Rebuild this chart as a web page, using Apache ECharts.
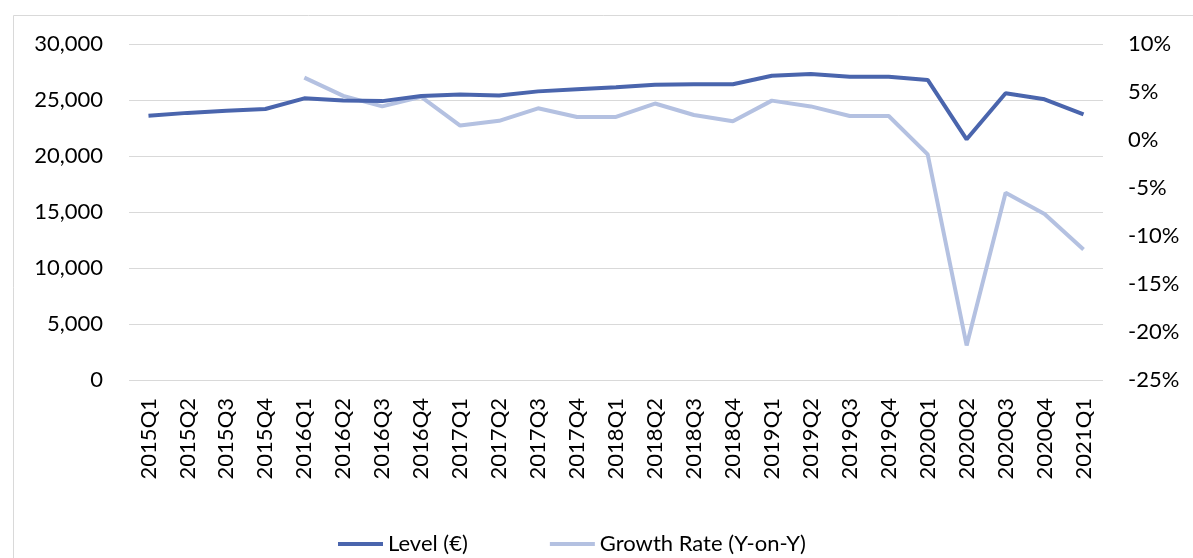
<!DOCTYPE html>
<html>
<head>
<meta charset="utf-8">
<script src="https://cdn.jsdelivr.net/npm/echarts@6/dist/echarts.min.js"></script>
<style>
html,body{margin:0;padding:0;background:#fff;}
#chart{width:1193px;height:558px;}
</style>
</head>
<body>
<div id="chart"></div>
<script>
const categories = ['2015Q1','2015Q2','2015Q3','2015Q4','2016Q1','2016Q2','2016Q3','2016Q4',
  '2017Q1','2017Q2','2017Q3','2017Q4','2018Q1','2018Q2','2018Q3','2018Q4',
  '2019Q1','2019Q2','2019Q3','2019Q4','2020Q1','2020Q2','2020Q3','2020Q4','2021Q1'];
const levelValues = [23600, 23850, 24050, 24200, 25150, 24950, 24900, 25350,
  25500, 25400, 25770, 25950, 26130, 26370, 26400, 26400,
  27170, 27320, 27080, 27080, 26790, 21490, 25600, 25060, 23720];
const growthValues = [null, null, null, null, 6.5, 4.6, 3.5, 4.5,
  1.5, 2.0, 3.3, 2.4, 2.4, 3.8, 2.6, 1.95,
  4.1, 3.5, 2.5, 2.5, -1.5, -21.4, -5.5, -7.7, -11.4];
const seriesNames = ['Level (€)', 'Growth Rate (Y-on-Y)'];

const FONT = 'Lato';
const chart = echarts.init(document.getElementById('chart'), null, {renderer:'canvas'});
chart.setOption({
  animation: false,
  backgroundColor: '#fff',
  textStyle: {fontFamily: FONT},
  graphic: [{
    type: 'rect', silent: true, z: -1,
    shape: {x: 13.5, y: 15.5, width: 1200, height: 600},
    style: {fill: 'none', stroke: '#D9D9D9', lineWidth: 1}
  }],
  grid: {left: 129, right: 90, top: 44, bottom: 178, containLabel: false},
  legend: {
    left: 333, top: 528,
    itemWidth: 45, itemHeight: 4, itemGap: 82,
    icon: 'rect',
    textStyle: {fontFamily: FONT, fontSize: 22, color: '#000', padding: [0,0,0,0]},
    data: seriesNames
  },
  xAxis: {
    type: 'category', data: categories, boundaryGap: true,
    axisLine: {show: false}, axisTick: {show: false},
    axisLabel: {rotate: 90, margin: 18, fontFamily: FONT, fontSize: 22, color: '#000', interval: 0}
  },
  yAxis: [{
    type: 'value', min: 0, max: 30000, interval: 5000,
    axisLine: {show: false}, axisTick: {show: false},
    splitLine: {lineStyle: {color: '#D9D9D9', width: 1}},
    axisLabel: {margin: 26, fontFamily: FONT, fontSize: 22, color: '#000',
      formatter: v => v.toLocaleString('en-US')}
  }, {
    type: 'value', min: -25, max: 10, interval: 5, position: 'right',
    axisLine: {show: false}, axisTick: {show: false}, splitLine: {show: false},
    axisLabel: {margin: 25, fontFamily: FONT, fontSize: 22, color: '#000', align: 'left',
      formatter: v => v + '%'}
  }],
  series: [{
    name: seriesNames[0], type: 'line', data: levelValues, yAxisIndex: 0,
    symbol: 'none', lineStyle: {color: '#4A65AD', width: 4}, itemStyle: {color: '#4A65AD'}, z: 3
  }, {
    name: seriesNames[1], type: 'line', data: growthValues, yAxisIndex: 1,
    symbol: 'none', lineStyle: {color: '#B4C1E1', width: 4}, itemStyle: {color: '#B4C1E1'}, z: 2
  }]
});
</script>
</body>
</html>
